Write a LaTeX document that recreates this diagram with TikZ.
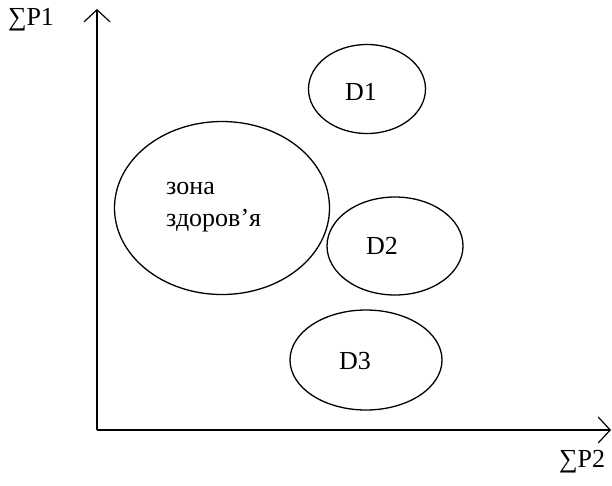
\documentclass[tikz,border=0pt]{standalone}
\usepackage{fontspec}
\setmainfont{Liberation Serif}
\usetikzlibrary{shapes.geometric,arrows.meta}

\begin{document}
\begin{tikzpicture}[
    x=1pt, y=-1pt,
    zone/.style={draw, ellipse, line width=1.3pt, inner sep=0pt},
    txt/.style={font=\fontsize{26}{32}\selectfont, inner sep=0pt},
    axis/.style={draw, line width=1.2pt, -{Straight Barb[length=12pt, width=26pt, line width=1.2pt]}}
]
    \useasboundingbox (0,0) rectangle (612,485);

    % axes
    \coordinate (O) at (97,430);
    \coordinate (Ytop) at (97,9);
    \coordinate (Xend) at (611,430);
    \draw[axis] (O) -- (Ytop);
    \draw[axis] (O) -- (Xend);
    \node[txt] (P1) at (31,20) {∑P1};
    \node[txt] (P2) at (582,462) {∑P2};

    % zones
    \node[zone, minimum width=215pt, minimum height=173pt] (H) at (222,208) {};
    \node[zone, minimum width=117pt, minimum height=89pt] (D1) at (367,89) {};
    \node[zone, minimum width=136pt, minimum height=98pt] (D2) at (395,246) {};
    \node[zone, minimum width=152pt, minimum height=100pt] (D3) at (366,360) {};

    % labels
    \node[txt, align=left, anchor=west] (Htext) at (166,207) {зона\\здоров’я};
    \node[txt] (D1text) at (361,92) {D1};
    \node[txt] (D2text) at (382,246) {D2};
    \node[txt] (D3text) at (355,361) {D3};
\end{tikzpicture}
\end{document}
